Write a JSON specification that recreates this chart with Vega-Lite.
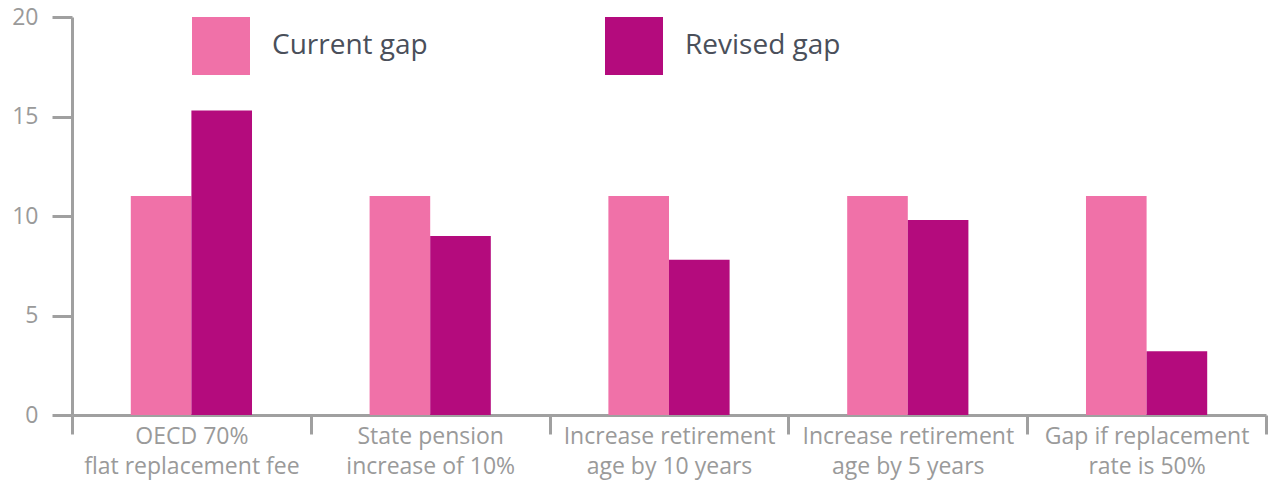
{
  "$schema": "https://vega.github.io/schema/vega-lite/v6.json",
  "width": 1194,
  "height": 398,
  "autosize": "none",
  "padding": {"left": 72, "top": 17, "right": 5, "bottom": 68},
  "background": "white",
  "config": {
    "view": {"stroke": null},
    "font": "Open Sans"
  },
  "data": {
    "values": [
      {"scenario": "OECD 70%|flat replacement fee", "series": "Current gap", "value": 11},
      {"scenario": "OECD 70%|flat replacement fee", "series": "Revised gap", "value": 15.3},
      {"scenario": "State pension|increase of 10%", "series": "Current gap", "value": 11},
      {"scenario": "State pension|increase of 10%", "series": "Revised gap", "value": 9.0},
      {"scenario": "Increase retirement|age by 10 years", "series": "Current gap", "value": 11},
      {"scenario": "Increase retirement|age by 10 years", "series": "Revised gap", "value": 7.8},
      {"scenario": "Increase retirement|age by 5 years", "series": "Current gap", "value": 11},
      {"scenario": "Increase retirement|age by 5 years", "series": "Revised gap", "value": 9.8},
      {"scenario": "Gap if replacement|rate is 50%", "series": "Current gap", "value": 11},
      {"scenario": "Gap if replacement|rate is 50%", "series": "Revised gap", "value": 3.2}
    ]
  },
  "mark": {"type": "bar"},
  "encoding": {
    "x": {
      "field": "scenario",
      "type": "nominal",
      "sort": null,
      "scale": {"paddingInner": 0, "paddingOuter": 0},
      "axis": {
        "title": null,
        "labelAngle": 0,
        "labelExpr": "split(datum.label, '|')",
        "labelFontSize": 23,
        "labelColor": "#9a9a9a",
        "labelLineHeight": 30,
        "labelPadding": -9,
        "labelLimit": 400,
        "tickBand": "extent",
        "tickSize": 19,
        "tickWidth": 3,
        "tickColor": "#a0a0a0",
        "domainColor": "#a0a0a0",
        "domainWidth": 3
      }
    },
    "xOffset": {
      "field": "series",
      "type": "nominal",
      "sort": ["Current gap", "Revised gap"],
      "scale": {"paddingInner": 0, "paddingOuter": 0.97}
    },
    "y": {
      "field": "value",
      "type": "quantitative",
      "scale": {"domain": [0, 20], "nice": false},
      "axis": {
        "title": null,
        "values": [0, 5, 10, 15, 20],
        "grid": false,
        "labelFontSize": 23,
        "labelColor": "#9a9a9a",
        "labelPadding": 14,
        "tickSize": 20,
        "tickWidth": 3,
        "tickColor": "#a0a0a0",
        "domainColor": "#a0a0a0",
        "domainWidth": 3
      }
    },
    "color": {
      "field": "series",
      "type": "nominal",
      "scale": {"domain": ["Current gap", "Revised gap"], "range": ["#F071A8", "#B40B7D"]},
      "legend": {
        "title": null,
        "orient": "none",
        "legendX": 120,
        "legendY": 0,
        "direction": "horizontal",
        "symbolType": "square",
        "symbolSize": 3364,
        "symbolStrokeWidth": 0,
        "symbolOpacity": 1,
        "labelFontSize": 28,
        "labelColor": "#4a4f5a",
        "labelOffset": 22,
        "columnPadding": 177,
        "padding": 0,
        "labelLimit": 300
      }
    }
  }
}
